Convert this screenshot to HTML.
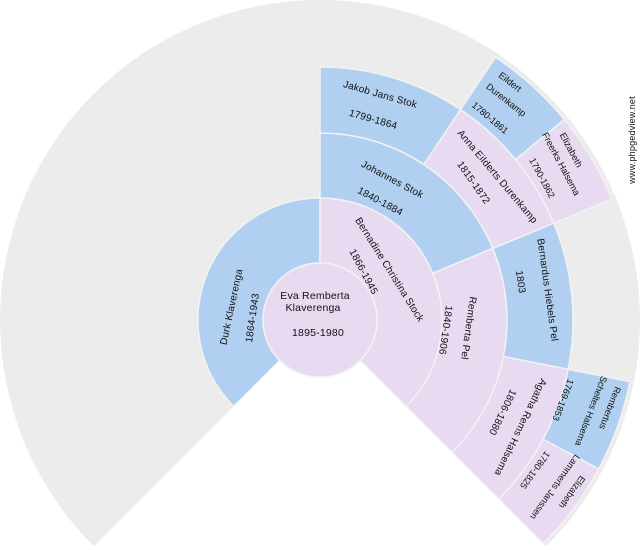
<!DOCTYPE html>
<html><head><meta charset="utf-8"><style>
html,body{margin:0;padding:0;background:#fff;width:640px;height:550px;overflow:hidden}
svg{display:block}
text{font-family:"Liberation Sans","DejaVu Sans",sans-serif;font-size:10px;fill:#111;text-anchor:middle;dominant-baseline:central;letter-spacing:0.2px}
.s{font-size:9.2px;letter-spacing:0}
.b{fill:#b1cff0;stroke:#f2f2f2;stroke-width:1.5}
.p{fill:#e8daf0;stroke:#f2f2f2;stroke-width:1.5}
</style></head><body>
<svg width="640" height="550" viewBox="0 0 640 550">
<g transform="translate(320,320)">
<path d="M0,0 L-226.27,226.27 A320,320 0 1 1 226.27,226.27 Z" fill="#ececec"/>
<path class="b" transform="rotate(-135)" d="M0,-122 A122,122 0 0 1 86.27,86.27 L40.31,40.31 A57,57 0 0 0 0,-57 Z"/>
<path class="p" transform="rotate(0)" d="M0,-122 A122,122 0 0 1 86.27,86.27 L40.31,40.31 A57,57 0 0 0 0,-57 Z"/>
<path class="b" transform="rotate(0)" d="M0,-187 A187,187 0 0 1 172.77,-71.56 L112.72,-46.69 A122,122 0 0 0 0,-122 Z"/>
<path class="p" transform="rotate(67.5)" d="M0,-187 A187,187 0 0 1 172.77,-71.56 L112.72,-46.69 A122,122 0 0 0 0,-122 Z"/>
<path class="b" transform="rotate(0)" d="M0,-253 A253,253 0 0 1 140.57,-210.37 L103.9,-155.49 A187,187 0 0 0 0,-187 Z"/>
<path class="p" transform="rotate(33.75)" d="M0,-253 A253,253 0 0 1 140.57,-210.37 L103.9,-155.49 A187,187 0 0 0 0,-187 Z"/>
<path class="b" transform="rotate(67.5)" d="M0,-253 A253,253 0 0 1 140.57,-210.37 L103.9,-155.49 A187,187 0 0 0 0,-187 Z"/>
<path class="p" transform="rotate(101.25)" d="M0,-253 A253,253 0 0 1 140.57,-210.37 L103.9,-155.49 A187,187 0 0 0 0,-187 Z"/>
<path class="b" transform="rotate(33.75)" d="M0,-316 A316,316 0 0 1 91.73,-302.38 L73.45,-242.1 A253,253 0 0 0 0,-253 Z"/>
<path class="p" transform="rotate(50.625)" d="M0,-316 A316,316 0 0 1 91.73,-302.38 L73.45,-242.1 A253,253 0 0 0 0,-253 Z"/>
<path class="b" transform="rotate(101.25)" d="M0,-316 A316,316 0 0 1 91.73,-302.38 L73.45,-242.1 A253,253 0 0 0 0,-253 Z"/>
<path class="p" transform="rotate(118.125)" d="M0,-316 A316,316 0 0 1 91.73,-302.38 L73.45,-242.1 A253,253 0 0 0 0,-253 Z"/>
<circle r="57" class="p"/>
</g>
<text x="315" y="296" style="font-size:10.5px">Eva Remberta</text>
<text x="313" y="308" style="font-size:10.5px">Klaverenga</text>
<text x="318" y="333" style="font-size:10.5px">1895-1980</text>

<text transform="translate(232,307) rotate(-78)">Durk Klaverenga</text>
<text transform="translate(253,318) rotate(-82)">1864-1943</text>

<text transform="translate(389,270) rotate(58)">Bernadine Christina Stock</text>
<text transform="translate(363,272) rotate(62)">1866-1945</text>

<text transform="translate(392,180) rotate(28)">Johannes Stok</text>
<text transform="translate(380,202) rotate(28)">1840-1884</text>

<text transform="translate(468,328) rotate(98)">Remberta Pel</text>
<text transform="translate(445,330) rotate(98)">1840-1906</text>

<text transform="translate(380,95) rotate(16)">Jakob Jans Stok</text>
<text transform="translate(373,120) rotate(16)">1799-1864</text>

<text transform="translate(497,177) rotate(50)">Anna Eilderts Durenkamp</text>
<text transform="translate(473,183) rotate(55)">1815-1872</text>

<text transform="translate(547,290) rotate(82)">Bernardus Hiebels Pel</text>
<text transform="translate(520,282) rotate(82)">1803</text>

<text transform="translate(520,427) rotate(116)">Agatha Rems Halsema</text>
<text transform="translate(502,412) rotate(116)">1806-1880</text>

<text class="s" transform="translate(510,82) rotate(38)">Eildert</text>
<text class="s" transform="translate(506,100) rotate(38)">Durenkamp</text>
<text class="s" transform="translate(490,118) rotate(40)">1780-1861</text>

<text class="s" transform="translate(571,150) rotate(62)">Elizabeth</text>
<text class="s" transform="translate(561,164) rotate(62)">Freerks Halsema</text>
<text class="s" transform="translate(542,178) rotate(62)">1790-1862</text>

<text class="s" transform="translate(610,408) rotate(111)">Rembertus</text>
<text class="s" transform="translate(591,411) rotate(111)">Scheltes Halsema</text>
<text class="s" transform="translate(563,400) rotate(111)">1769-1853</text>

<text class="s" transform="translate(572,492) rotate(126)">Elizabeth</text>
<text class="s" transform="translate(555,487) rotate(126)">Lammerts Janssen</text>
<text class="s" transform="translate(535,470) rotate(126)">1780-1825</text>

<text transform="translate(632,140) rotate(-90)" style="font-size:9px">www.phpgedview.net</text>
</svg>
</body></html>
